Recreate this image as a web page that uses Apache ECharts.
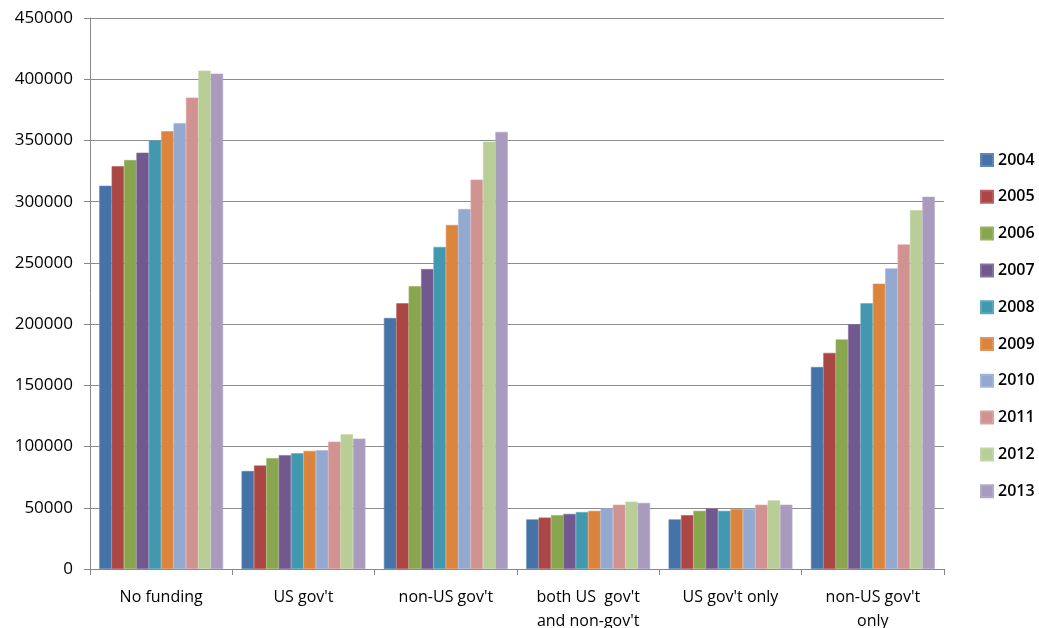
<!DOCTYPE html>
<html>
<head>
<meta charset="utf-8">
<script src="https://cdn.jsdelivr.net/npm/echarts@6/dist/echarts.min.js"></script>
<style>
html,body{margin:0;padding:0;background:#fff;}
#chart{width:1039px;height:628px;}
</style>
</head>
<body>
<div id="chart"></div>
<script>
const categories = ["No funding", "US gov't", "non-US gov't", "both US  gov't\nand non-gov't", "US gov't only", "non-US gov't\nonly"];
const years = ["2004","2005","2006","2007","2008","2009","2010","2011","2012","2013"];
const v2004 = [313000, 80000, 205000, 40500, 40500, 165000];
const v2005 = [329000, 84500, 217000, 42000, 44000, 176500];
const v2006 = [334000, 90500, 231000, 44000, 47500, 187500];
const v2007 = [340000, 93000, 245000, 45000, 49500, 200000];
const v2008 = [350000, 94500, 263000, 46500, 47500, 217000];
const v2009 = [357500, 96500, 281000, 47500, 49000, 233000];
const v2010 = [364000, 97000, 294000, 49500, 49000, 245500];
const v2011 = [385000, 104000, 318000, 52500, 52500, 265000];
const v2012 = [407000, 110000, 349000, 55000, 56000, 293000];
const v2013 = [404500, 106500, 357000, 54000, 52500, 304000];
const yTicks = [0, 50000, 100000, 150000, 200000, 250000, 300000, 350000, 400000, 450000];

const seriesValues = [v2004, v2005, v2006, v2007, v2008, v2009, v2010, v2011, v2012, v2013];
const colors = ['#4572A7','#AA4643','#89A54E','#71588F','#4198AF','#DB843D','#93A9CF','#D19392','#B9CD96','#A99BBD'];
const FONT = "'Open Sans', sans-serif";

const chart = echarts.init(document.getElementById('chart'));
chart.setOption({
  animation: false,
  backgroundColor: '#fff',
  color: colors,
  grid: { left: 90, right: 95, top: 18, bottom: 59, containLabel: false, outerBoundsMode: 'none' },
  legend: {
    orient: 'vertical',
    left: 975,
    top: 145,
    itemWidth: 12,
    itemHeight: 12,
    itemGap: 16.8,
    icon: 'rect',
    textStyle: { fontFamily: FONT, fontSize: 16, fontWeight: 600, color: '#000', lineHeight: 20 },
    data: years
  },
  xAxis: {
    type: 'category',
    data: categories,
    axisLine: { lineStyle: { color: '#888', width: 1 } },
    axisTick: { show: true, length: 6, lineStyle: { color: '#888' } },
    axisLabel: { fontFamily: FONT, fontSize: 16, fontWeight: 500, color: '#000', margin: 16, lineHeight: 24, interval: 0 }
  },
  yAxis: {
    type: 'value',
    min: 0,
    max: 450000,
    interval: 50000,
    axisLine: { show: true, lineStyle: { color: '#888', width: 1 } },
    axisTick: { show: true, length: 6, lineStyle: { color: '#888' } },
    axisLabel: { fontFamily: FONT, fontSize: 17, fontWeight: 500, color: '#000', margin: 17,
      formatter: v => yTicks.includes(v) ? String(v) : '' },
    splitLine: { show: true, lineStyle: { color: '#8c8c8c', width: 1.2 } }
  },
  series: years.map((y, i) => ({
    name: y,
    type: 'bar',
    data: seriesValues[i],
    barGap: '0%',
    barCategoryGap: '13%',
    itemStyle: { color: colors[i], borderColor: echarts.color.lift(colors[i], 0.15), borderWidth: 0.6 }
  }))
});
</script>
</body>
</html>
